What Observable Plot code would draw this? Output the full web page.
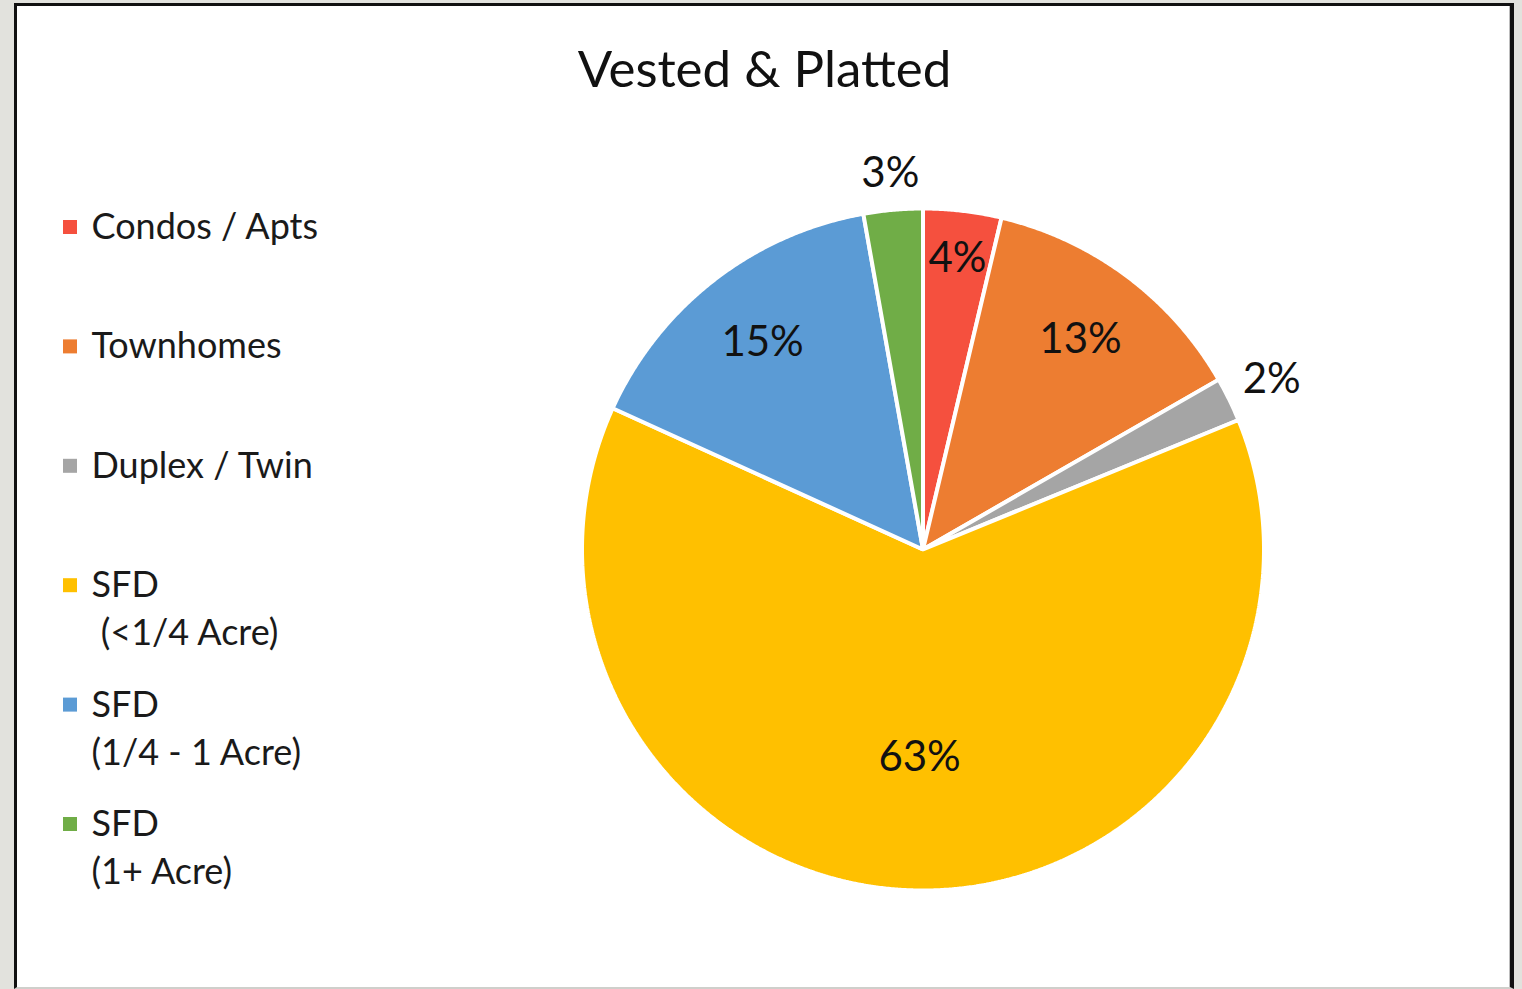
<!DOCTYPE html>
<html>
<head>
<meta charset="utf-8">
<script src="https://cdn.jsdelivr.net/npm/d3@7"></script>
<script src="https://cdn.jsdelivr.net/npm/@observablehq/plot@0.6"></script>
<style>
  html, body { margin: 0; padding: 0; width: 1522px; height: 989px; overflow: hidden; background: #e2e2dd; }
  #frame { position: absolute; left: 14px; top: 3px; width: 1493px; height: 981px; background: #fff;
           border-left: 3px solid #111; border-top: 3px solid #111; border-right: 4px solid #111;
           border-bottom: 2px solid #cfcfcb; box-shadow: inset -1px 0 0 #bdbdbd; }
  #chart { position: absolute; left: 0; top: 0; }
</style>
</head>
<body>
<div id="frame"></div>
<div id="chart"></div>
<script>
// ---- data ----
const title = "Vested & Platted";
const categories = ["Condos / Apts", "Townhomes", "Duplex / Twin", "SFD (<1/4 Acre)", "SFD (1/4 - 1 Acre)", "SFD (1+ Acre)"];
const legendLabels = ["Condos / Apts", "Townhomes", "Duplex / Twin", "SFD\n\u00a0(<1/4 Acre)", "SFD\n(1/4 - 1 Acre)", "SFD\n(1+ Acre)"];
const shares = [3.7, 13.0, 2.1, 63.0, 15.4, 2.8];
const pctLabels = ["4%", "13%", "2%", "63%", "15%", "3%"];
const colors = ["#F5503E", "#ED7D31", "#A5A5A5", "#FFC000", "#5B9BD5", "#70AD47"];

// ---- layout ----
const W = 1522, H = 989;
const cx = 923, cy = 549.5, R = 341;
const font = "Lato, 'Open Sans', sans-serif";

// pie geometry from d3.pie
const arcs = d3.pie().sort(null).value(d => d)(shares);
const slicePts = [];
arcs.forEach((a, i) => {
  const n = Math.max(2, Math.ceil((a.endAngle - a.startAngle) / 0.005));
  for (let k = 0; k <= n; k++) {
    const t = a.startAngle + (a.endAngle - a.startAngle) * k / n;
    slicePts.push({cat: categories[i], color: colors[i], x: cx + R * Math.sin(t), y: cy - R * Math.cos(t)});
  }
});

const labelData = arcs.map((a, i) => {
  const m = (a.startAngle + a.endAngle) / 2;
  const v = shares[i];
  let r;
  if (v < 3) r = R + 36 + 12 * Math.abs(Math.sin(m));
  else if (v < 5) r = R * 0.86;
  else if (v > 50) r = R * 0.61;
  else r = R * 0.77;
  return {text: pctLabels[i], x: cx + r * Math.sin(m), y: cy - r * Math.cos(m)};
});

const legendY0 = 227, legendStep = 119.4, lineStep = 48;
const legendSquares = categories.map((c, i) => ({cat: c, color: colors[i], y: legendY0 + i * legendStep}));
const legendLines = [];
legendLabels.forEach((l, i) => l.split("\n").forEach((s, j) => legendLines.push({text: s, y: legendY0 + i * legendStep + j * lineStep})));

const chart = Plot.plot({
  width: W, height: H,
  margin: 0,
  style: {background: "transparent", fontFamily: font},
  x: {domain: [0, W], range: [0, W], axis: null},
  y: {domain: [0, H], range: [0, H], axis: null},
  marks: [
    Plot.area(slicePts, {x1: "x", y1: "y", x2: () => cx, y2: () => cy, z: "cat", fill: "color",
      stroke: "white", strokeWidth: 4, strokeLinejoin: "miter"}),
    Plot.text(labelData, {x: "x", y: "y", text: "text", fontSize: 42, fill: "#111", fontFamily: font}),
    Plot.rect(legendSquares, {x1: () => 63, x2: () => 77, y1: d => d.y - 7, y2: d => d.y + 7, fill: "color"}),
    Plot.text(legendLines, {x: () => 91, y: "y", text: "text", textAnchor: "start", fontSize: 36, fill: "#1a1a1a", fontFamily: font}),
    Plot.text([title], {x: () => 764, y: () => 70, text: d => d, fontSize: 51, fill: "#111", fontFamily: font})
  ]
});
document.getElementById("chart").appendChild(chart);
</script>
</body>
</html>
